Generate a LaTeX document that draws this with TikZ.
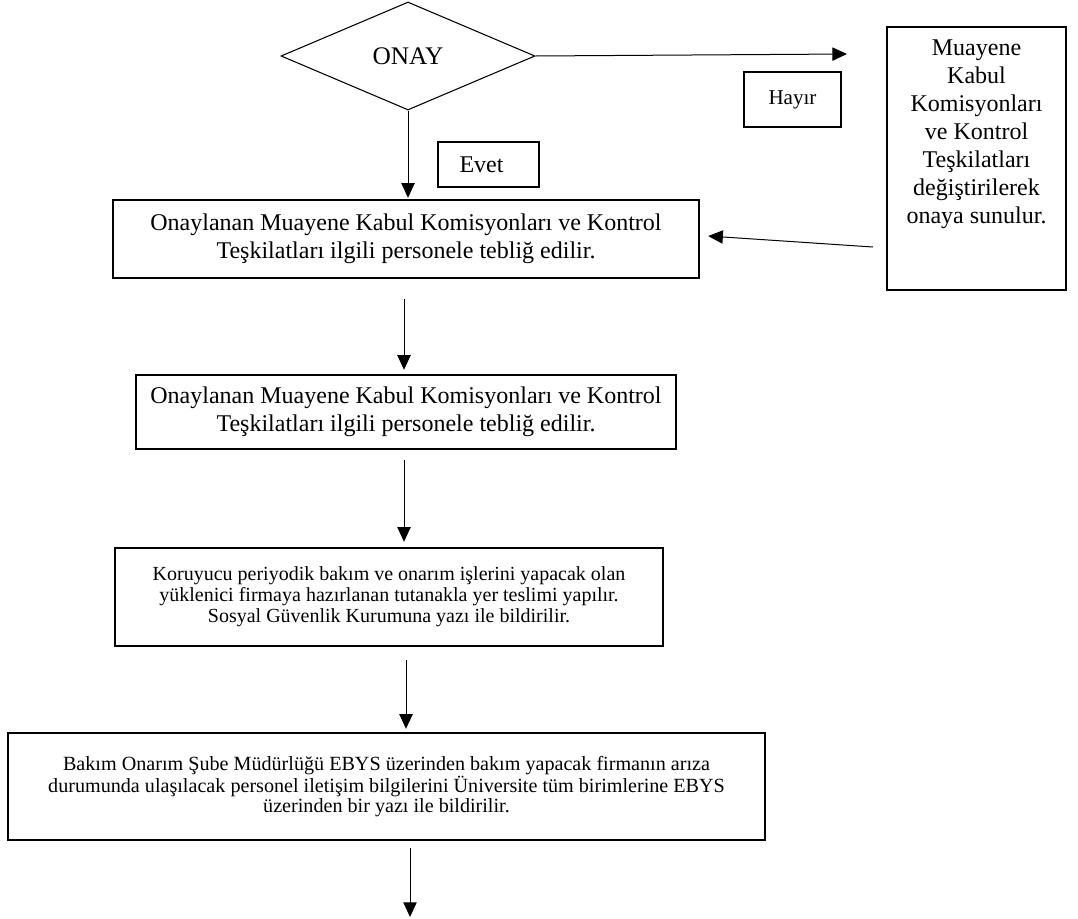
\documentclass[tikz,border=0pt]{standalone}
\usepackage{fontspec}
\setmainfont{Liberation Serif}
\usetikzlibrary{shapes.geometric,arrows.meta}
\def\u{0.75pt}
\tikzset{
  x=0.75pt,y=-0.75pt,
  procbox/.style={draw,line width=1.8pt,align=center,inner sep=0pt},
  labelbox/.style={draw,line width=1.6pt,align=center,inner sep=0pt},
  conn/.style={line width=0.75pt,-{Triangle[length=11pt,width=10pt]}},
  mainfont/.style={font=\fontsize{18}{21}\selectfont},
  smallfont/.style={font=\fontsize{15}{15.8}\selectfont},
  tightfont/.style={font=\fontsize{15.1}{12.6}\selectfont},
}
\begin{document}
\begin{tikzpicture}
\useasboundingbox (0,0) rectangle (1078,918);
\node[draw,line width=0.8pt,diamond,shape aspect=2.35,minimum width=254*\u,minimum height=108*\u,inner sep=0pt,font=\fontsize{19}{22}\selectfont] (onay) at (408,56) {ONAY};
\node[labelbox,font=\fontsize{15.8}{18}\selectfont,minimum width=97*\u,minimum height=55*\u] (hayir) at (792.5,99.5) {Hayır};
\node[labelbox,minimum width=101*\u,minimum height=45*\u] (evet) at (488.5,164.5) {};
\node[mainfont,inner sep=0pt] (evettxt) at (481.5,164.5) {Evet};
\node[procbox,mainfont,minimum width=586*\u,minimum height=78*\u] (b1) at (406,239) {Onaylanan Muayene Kabul Komisyonları ve Kontrol\\Teşkilatları ilgili personele tebliğ edilir.};
\node[procbox,minimum width=179*\u,minimum height=263*\u] (mk) at (976.5,158.5) {};
\node[mainfont,align=center,anchor=north,inner sep=0pt] (mktext) at (976.5,40) {Muayene\\Kabul\\Komisyonları\\ve Kontrol\\Teşkilatları\\değiştirilerek\\onaya sunulur.};
\node[procbox,mainfont,minimum width=540*\u,minimum height=74*\u] (b2) at (406,412) {Onaylanan Muayene Kabul Komisyonları ve Kontrol\\Teşkilatları ilgili personele tebliğ edilir.};
\node[procbox,smallfont,minimum width=548*\u,minimum height=98*\u] (b3) at (389,597) {Koruyucu periyodik bakım ve onarım işlerini yapacak olan\\yüklenici firmaya hazırlanan tutanakla yer teslimi yapılır.\\Sosyal Güvenlik Kurumuna yazı ile bildirilir.};
\node[procbox,tightfont,minimum width=757*\u,minimum height=107*\u] (b4) at (386.5,786.5) {Bakım Onarım Şube Müdürlüğü EBYS üzerinden bakım yapacak firmanın arıza\\durumunda ulaşılacak personel iletişim bilgilerini Üniversite tüm birimlerine EBYS\\üzerinden bir yazı ile bildirilir.};
\coordinate (hend) at (847,54);
\coordinate (mkout) at (873,247);
\coordinate (fend) at (410,917);
\draw[conn] (onay.east) -- (hend);
\draw[conn] (onay.south) -- ([yshift=1*\u]onay.south |- b1.north);
\draw[conn] (mkout) -- ([xshift=8*\u,yshift=3*\u]b1.east);
\draw[conn] ([yshift=-20*\u]b1.south -| 404,0) -- ([yshift=4*\u]b2.north -| 404,0);
\draw[conn] ([yshift=-10*\u]b2.south -| 404,0) -- ([yshift=5*\u]b3.north -| 404,0);
\draw[conn] ([yshift=-13*\u]b3.south -| 406,0) -- ([yshift=3*\u]b4.north -| 406,0);
\draw[conn] ([yshift=-7*\u]b4.south -| 410,0) -- (fend);
\end{tikzpicture}
\end{document}
